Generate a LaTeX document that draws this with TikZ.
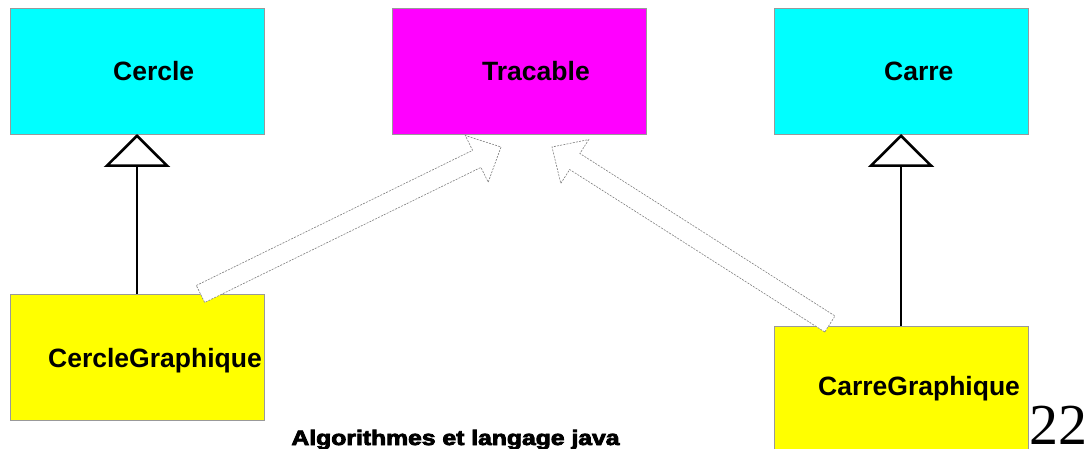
\documentclass[tikz,border=0pt]{standalone}
\usepackage{fontspec}
\usepackage{graphicx}
\setmainfont{Liberation Sans}
\newfontfamily\serifnum{Liberation Serif}
\newfontfamily\heavyfont{Liberation Sans}[BoldFeatures={FakeBold=3.5}]
\usetikzlibrary{calc,arrows.meta}

\definecolor{boxcyan}{RGB}{0,255,255}
\definecolor{boxmagenta}{RGB}{255,0,255}
\definecolor{boxyellow}{RGB}{255,255,0}

\tikzset{
  classbox/.style={draw=black!40, line width=0.8pt, inner sep=0pt, outer sep=0pt,
    minimum width=254pt, minimum height=126pt, anchor=north west},
  classname/.style={font=\bfseries\fontsize{26.5}{30}\selectfont, inner sep=0pt, anchor=base west},
  inherit/.style={line width=2.6pt, -{Triangle[open, width=66pt, length=33pt, line width=2.6pt]}},
  implarrow/.style={draw=black!50, line width=0.6pt, dash pattern=on 2pt off 1.2pt, fill=white}
}

% hollow block arrow from #1 (tail) to #2 (tip)
\newcommand\hollowarrow[2]{%
  \path[implarrow] let \p1=(#1), \p2=(#2), \n1={atan2(\y2-\y1,\x2-\x1)} in
    ($(\p1)+({\n1+90}:9.5pt)$)
    -- ($(\p2)+({\n1+180}:27pt)+({\n1+90}:9.5pt)$)
    -- ($(\p2)+({\n1+180}:27pt)+({\n1+90}:26pt)$)
    -- (\p2)
    -- ($(\p2)+({\n1+180}:27pt)+({\n1-90}:26pt)$)
    -- ($(\p2)+({\n1+180}:27pt)+({\n1-90}:9.5pt)$)
    -- ($(\p1)+({\n1-90}:9.5pt)$)
    -- cycle;}

\begin{document}
\begin{tikzpicture}[x=1pt, y=-1pt]
  \clip (0,0) rectangle (1089,449);
  \fill[white] (0,0) rectangle (1089,449);

  % classes
  \node[classbox, fill=boxcyan]    (cercle) at (10,8)   {};
  \node[classbox, fill=boxmagenta] (trac)   at (392,8)  {};
  \node[classbox, fill=boxcyan]    (carre)  at (774,8)  {};
  \node[classbox, fill=boxyellow]  (cgr)    at (10,294) {};
  \node[classbox, fill=boxyellow]  (kgr)    at (774,326){};

  % inheritance
  \draw[inherit] (cgr.north) -- (cercle.south);
  \draw[inherit] (kgr.north) -- (carre.south);

  % implementation of the interface
  \coordinate (lt) at ($(cgr.north west)!0.75!(cgr.north east)$);
  \coordinate (lh) at ($(trac.south west)+(109,13)$);
  \coordinate (rt) at ($(kgr.north west)!0.22!(kgr.north east)+(0,-2)$);
  \coordinate (rh) at ($(trac.south west)+(160,13)$);
  \hollowarrow{lt}{lh}
  \hollowarrow{rt}{rh}

  % class names
  \node[classname] (cercleT) at ($(cercle.south west)+(103,-53)$) {Cercle};
  \node[classname] (tracT)   at ($(trac.south west)+(90,-53)$)   {Tracable};
  \node[classname] (carreT)  at ($(carre.south west)+(110,-53)$) {Carre};
  \node[classname] (cgrT)    at ($(cgr.north west)+(38,73)$)     {CercleGraphique};
  \node[classname] (kgrT)    at ($(kgr.north west)+(44,69)$)     {CarreGraphique};

  % footer
  \node[inner sep=0pt, anchor=base] (footer) at (455.5,445)
    {\scalebox{1.3}[1.1]{\heavyfont\bfseries\fontsize{19}{22}\selectfont Algorithmes et langage java}};
  \node[inner sep=0pt, anchor=base west] (pagenum) at (1029,444)
    {\serifnum\fontsize{58}{64}\selectfont 22};
\end{tikzpicture}
\end{document}
